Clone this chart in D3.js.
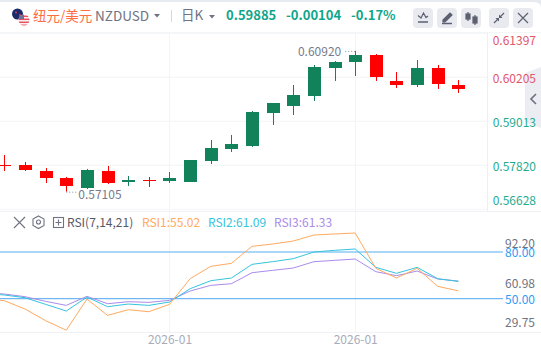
<!DOCTYPE html>
<html>
<head>
<meta charset="utf-8">
<script src="https://cdn.jsdelivr.net/npm/d3@7"></script>
<style>
    html, body { margin: 0; padding: 0; background: #fff; overflow: hidden; }
    text { font-family: "Noto Sans CJK SC", "Noto Sans", sans-serif; }
</style>
</head>
<body>
<div id="chart"></div>
<script>
// Candles, oldest first
const opens  = [0.57821, 0.57829, 0.57666, 0.57477, 0.57206, 0.57666, 0.57368, 0.57423, 0.57396, 0.57368, 0.57937, 0.58262, 0.58344, 0.59238, 0.59427, 0.59698, 0.60457, 0.60619, 0.60809, 0.60105, 0.59996, 0.60457, 0.59996];
const closes = [0.57810, 0.57694, 0.57477, 0.57260, 0.57694, 0.57341, 0.57423, 0.57396, 0.57477, 0.57964, 0.58290, 0.58398, 0.59265, 0.59509, 0.59725, 0.60484, 0.60619, 0.60809, 0.60213, 0.59996, 0.60457, 0.60023, 0.59888];
const highs  = [0.58100, 0.57910, 0.57748, 0.57504, 0.57721, 0.57802, 0.57531, 0.57504, 0.57639, 0.57964, 0.58506, 0.58642, 0.59292, 0.59509, 0.59996, 0.60538, 0.60646, 0.60920, 0.60836, 0.60348, 0.60674, 0.60538, 0.60132];
const lows   = [0.57666, 0.57666, 0.57341, 0.57105, 0.57179, 0.57314, 0.57260, 0.57233, 0.57341, 0.57368, 0.57856, 0.58181, 0.58317, 0.58913, 0.59184, 0.59563, 0.60105, 0.60240, 0.60105, 0.59915, 0.59942, 0.59888, 0.59780];

// RSI, first value belongs to the candle just left of the window
const rsi1 = [50.0, 48.71, 43.36, 35.86, 29.75, 49.78, 39.29, 42.93, 41.64, 46.36, 62.86, 70.79, 72.71, 83.64, 85.14, 87.07, 90.93, 91.57, 92.20, 69.50, 63.29, 69.50, 57.93, 55.02];
const rsi2 = [53.5, 52.36, 50.64, 46.36, 42.07, 51.07, 44.86, 46.57, 45.71, 47.86, 56.43, 61.57, 63.29, 72.07, 73.79, 75.71, 80.00, 81.07, 81.93, 70.14, 66.29, 70.14, 62.86, 61.09];
const rsi3 = [53.7, 53.00, 51.29, 48.29, 45.71, 51.50, 46.79, 48.07, 47.64, 48.93, 54.93, 58.57, 59.64, 66.71, 68.21, 69.71, 73.79, 74.64, 75.50, 67.36, 64.79, 67.79, 62.64, 61.33];

const priceTicks = [0.61397, 0.60205, 0.59013, 0.57820, 0.56628];
const rsiTicks = [92.20, 60.98, 29.75];
const rsiLevels = [80, 50];
const dateTicks = [8, 17];

const width = 541, height = 352;
const svg = d3.select("#chart").append("svg")
    .attr("width", width)
    .attr("height", height)
    .style("display", "block");

// Scales
const x = d3.scaleLinear().domain([0, 22]).range([4.4, 458.4]);
const yPrice = d3.scaleLinear().domain([0.61397, 0.56628]).range([33.3, 209.3]);
const yRsi = d3.scaleLinear().domain([80, 50]).range([252, 298.7]);

const colors = { up: "#12825a", down: "#ff0000", grid: "#f3f4f6", teal: "#0fa68a", gray: "#6f7383" };

// Page chrome
svg.append("rect").attr("width", width).attr("height", height).attr("fill", "#fff");
svg.append("path").attr("d", "M0 0H541V8Q541 2 533 2H0Z").attr("fill", "#e7eaef");
svg.append("rect").attr("y", 32).attr("width", width).attr("height", 1).attr("fill", "#f4f5f7");

// Grid
svg.append("g").selectAll("line").data(priceTicks).join("line")
    .attr("x1", 0).attr("x2", 487)
    .attr("y1", d => yPrice(d)).attr("y2", d => yPrice(d))
    .attr("stroke", colors.grid);

svg.append("g").selectAll("line").data(dateTicks).join("line")
    .attr("x1", d => Math.round(x(d)) + 0.5).attr("x2", d => Math.round(x(d)) + 0.5)
    .attr("y1", 33).attr("y2", 332)
    .attr("stroke", colors.grid);

svg.append("line").attr("x1", 487.5).attr("x2", 487.5).attr("y1", 33).attr("y2", 211).attr("stroke", "#eff0f3");
svg.append("line").attr("x1", 0).attr("x2", width).attr("y1", 211.5).attr("y2", 211.5).attr("stroke", "#f0f1f4");
svg.append("line").attr("x1", 0).attr("x2", width).attr("y1", 332.5).attr("y2", 332.5).attr("stroke", "#f0f1f4");

// Collapse tab on the right
svg.append("path").attr("d", "M541 67L525 73V122L541 128Z").attr("fill", "#ecedf2");
svg.append("path").attr("d", "M536 94L531 99L536 104").attr("fill", "none").attr("stroke", "#6b7080").attr("stroke-width", 1.6);

// Candles
const candles = d3.range(opens.length);
const candleColor = i => closes[i] >= opens[i] ? colors.up : colors.down;

svg.append("g").selectAll("line").data(candles).join("line")
    .attr("x1", i => Math.round(x(i)) + 0.5).attr("x2", i => Math.round(x(i)) + 0.5)
    .attr("y1", i => yPrice(highs[i])).attr("y2", i => yPrice(lows[i]))
    .attr("stroke", candleColor);

svg.append("g").selectAll("rect").data(candles).join("rect")
    .attr("x", i => Math.round(x(i)) - 6)
    .attr("width", 13)
    .attr("y", i => Math.round(yPrice(Math.max(opens[i], closes[i]))))
    .attr("height", i => Math.max(1, Math.round(Math.abs(yPrice(opens[i]) - yPrice(closes[i])))))
    .attr("fill", candleColor);

// High and low notes
const hiIndex = d3.maxIndex(highs), loIndex = d3.minIndex(lows);
const note = svg.append("g").attr("fill", "#777b8c").style("font-size", "12px");
note.append("text").attr("x", x(hiIndex) - 14).attr("y", yPrice(highs[hiIndex]) + 5)
    .attr("text-anchor", "end").text(d3.format(".5f")(highs[hiIndex]));
note.append("text").attr("x", x(loIndex) + 12).attr("y", yPrice(lows[loIndex]) + 7.5)
    .text(d3.format(".5f")(lows[loIndex]));
svg.append("line").attr("x1", x(hiIndex) - 10).attr("x2", x(hiIndex))
    .attr("y1", yPrice(highs[hiIndex]) + 0.5).attr("y2", yPrice(highs[hiIndex]) + 0.5)
    .attr("stroke", "#8a8e9c").attr("stroke-dasharray", "1 2");
svg.append("line").attr("x1", x(loIndex)).attr("x2", x(loIndex) + 10)
    .attr("y1", yPrice(lows[loIndex]) + 0.5).attr("y2", yPrice(lows[loIndex]) + 0.5)
    .attr("stroke", "#8a8e9c").attr("stroke-dasharray", "1 2");

// Price labels, pushed inside the pane at the ends
const priceLast = closes[closes.length - 1];
svg.append("g").selectAll("text").data(priceTicks).join("text")
    .attr("x", 536)
    .attr("y", d => Math.max(41, Math.min(201, yPrice(d) + 1)))
    .attr("dy", "0.36em")
    .attr("text-anchor", "end")
    .style("font-size", "12px")
    .attr("fill", d => d > priceLast ? "#e2566a" : "#1fad92")
    .text(d => d3.format(".5f")(d));

// RSI levels
svg.append("g").selectAll("line").data(rsiLevels).join("line")
    .attr("x1", 0).attr("x2", 503)
    .attr("y1", d => yRsi(d)).attr("y2", d => yRsi(d))
    .attr("stroke", d => d === 80 ? "#8ec8f6" : "#4ea5ef")
    .attr("stroke-width", d => d === 80 ? 1.5 : 1);

// RSI lines
const line = d3.line().x((d, i) => x(i - 1)).y(d => yRsi(d));
[[rsi3, "#a98bea"], [rsi2, "#35c4dd"], [rsi1, "#ffaa60"]].forEach(([values, color]) => {
    svg.append("path")
        .datum(values)
        .attr("fill", "none")
        .attr("stroke", color)
        .attr("d", line);
});

// RSI labels
svg.append("g").selectAll("text").data(rsiTicks).join("text")
    .attr("x", 535)
    .attr("y", d => Math.max(244, Math.min(323, yRsi(d) + 2.5)))
    .attr("dy", "0.36em")
    .attr("text-anchor", "end")
    .style("font-size", "12px")
    .attr("fill", "#6f7383")
    .text(d => d3.format(".2f")(d));

svg.append("g").selectAll("text").data(rsiLevels).join("text")
    .attr("x", 535)
    .attr("y", d => yRsi(d) + 1)
    .attr("dy", "0.36em")
    .attr("text-anchor", "end")
    .style("font-size", "12px")
    .attr("fill", "#2f9bf4")
    .text(d => d3.format(".2f")(d));

// Date axis
const xAxis = svg.append("g")
    .attr("transform", "translate(0,332)")
    .call(d3.axisBottom(x).tickValues(dateTicks).tickSize(0).tickPadding(3).tickFormat(() => "2026-01"));
xAxis.select(".domain").remove();
xAxis.selectAll("text")
    .style("font-size", "12px")
    .style("font-family", "\"Noto Sans CJK SC\", \"Noto Sans\", sans-serif")
    .attr("fill", "#a9acb9");

// Flag icon
const defs = svg.append("defs");
defs.append("clipPath").attr("id", "flagUs").append("circle").attr("cx", 24).attr("cy", 20).attr("r", 5.5);
svg.append("circle").attr("cx", 17.5).attr("cy", 14).attr("r", 5.5).attr("fill", "#1b2a6b");
svg.append("circle").attr("cx", 16).attr("cy", 12.5).attr("r", 1).attr("fill", "#d8404f");
svg.append("circle").attr("cx", 20).attr("cy", 15).attr("r", 1).attr("fill", "#d8404f");
const flag = svg.append("g").attr("clip-path", "url(#flagUs)");
flag.append("rect").attr("x", 18).attr("y", 14).attr("width", 12).attr("height", 12).attr("fill", "#fff");
d3.range(4).forEach(i => {
    flag.append("rect").attr("x", 18).attr("y", 15.5 + i * 3).attr("width", 12).attr("height", 1.6).attr("fill", "#e8505f");
});
flag.append("rect").attr("x", 18).attr("y", 14).attr("width", 6).attr("height", 5).attr("fill", "#6d7396");

// Header text
const header = svg.append("g").style("font-size", "13.5px");
header.append("text").attr("x", 33).attr("y", 21).attr("fill", "#ff6d42").style("font-size", "13.5px").text("纽元/美元");
header.append("text").attr("x", 95).attr("y", 21).attr("fill", "#6f7383").text("NZDUSD");
header.append("text").attr("x", 181).attr("y", 20).attr("fill", "#6f7383").text("日K");
header.append("path").attr("d", "M154 14H160L157 17.5Z").attr("fill", "#6f7383");
header.append("path").attr("d", "M209 15H215L212 18.5Z").attr("fill", "#6f7383");
svg.append("line").attr("x1", 171.5).attr("x2", 171.5).attr("y1", 10).attr("y2", 22).attr("stroke", "#d5d8df");

const quote = svg.append("g").attr("fill", colors.teal).style("font-size", "13px").style("font-weight", 700);
quote.append("text").attr("x", 226).attr("y", 20).text("0.59885");
quote.append("text").attr("x", 286).attr("y", 20).text("-0.00104");
quote.append("text").attr("x", 351).attr("y", 20).text("-0.17%");

// Toolbar buttons
const buttonX = [413, 437, 461, 489, 513];
svg.append("g").selectAll("rect").data(buttonX).join("rect")
    .attr("x", d => d).attr("y", 8).attr("width", 20).attr("height", 20).attr("rx", 4)
    .attr("fill", "#e8eaf0");

const icon = svg.append("g").attr("fill", "none").attr("stroke", "#5c6070").attr("stroke-width", 1.2);
icon.append("path").attr("d", "M418 15.5L421 18L423.500 13L426 17.500L428 16");
icon.append("path").attr("d", "M418 22H428").attr("stroke-width", 1.5);
icon.append("path").attr("d", "M443 20L450 13L452 15L445 22H443Z").attr("fill", "#5c6070");
icon.append("path").attr("d", "M442 23.500H452").attr("stroke-width", 1.5);
icon.append("path").attr("d", "M468 12V21M475 15V25");
icon.append("rect").attr("x", 466).attr("y", 14).attr("width", 4).attr("height", 5).attr("fill", "#5c6070");
icon.append("rect").attr("x", 473).attr("y", 17).attr("width", 4).attr("height", 6).attr("fill", "#5c6070");
icon.append("path").attr("d", "M494 23L498 19M504 13L500 17");
icon.append("path").attr("d", "M495.500 18H499V21.500ZM502.500 18H499V14.500Z").attr("fill", "#5c6070").attr("stroke", "none");
icon.append("path").attr("d", "M518 13L528 23M528 13L518 23");

// RSI header
const tools = svg.append("g").attr("fill", "none").attr("stroke", "#6f7383").attr("stroke-width", 1.1);
tools.append("path").attr("d", "M14 217L25 228M25 217L14 228");
tools.append("path").attr("d", "M38.500 216L44 219V225.500L38.500 228.500L33 225.500V219Z");
tools.append("circle").attr("cx", 38.5).attr("cy", 222).attr("r", 2);
tools.append("rect").attr("x", 53.5).attr("y", 217.5).attr("width", 10).attr("height", 10);
tools.append("path").attr("d", "M58.500 219.500V225.500M55.500 222.500H61.500");

const legend = svg.append("g").style("font-size", "12px");
legend.append("text").attr("x", 67).attr("y", 227).attr("fill", "#555866").text("RSI(7,14,21)");
legend.append("text").attr("x", 142).attr("y", 227).attr("fill", "#ffaa60").text(`RSI1:${d3.format(".2f")(rsi1[rsi1.length - 1])}`);
legend.append("text").attr("x", 208).attr("y", 227).attr("fill", "#35c4dd").text(`RSI2:${d3.format(".2f")(rsi2[rsi2.length - 1])}`);
legend.append("text").attr("x", 274).attr("y", 227).attr("fill", "#a98bea").text(`RSI3:${d3.format(".2f")(rsi3[rsi3.length - 1])}`);
</script>
</body>
</html>
